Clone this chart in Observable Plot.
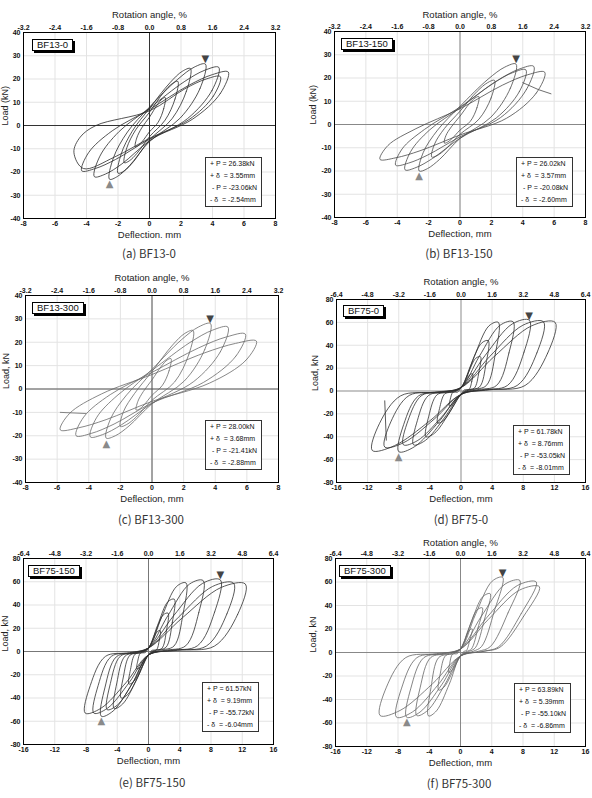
<!DOCTYPE html>
<html><head><meta charset="utf-8">
<script src="https://cdn.jsdelivr.net/npm/d3@7"></script>
<script src="https://cdn.jsdelivr.net/npm/@observablehq/plot@0.6"></script>
<style>
body{margin:0;background:#fff;}
#page{position:relative;width:592px;height:798px;overflow:hidden;background:#fff;}
.panel{position:absolute;}
.tag{position:absolute;border:1px solid #000;box-shadow:2px 2px 0 #000;background:#fff;font:9.5px "Liberation Sans",Arial,sans-serif;line-height:10px;padding:0 4px;color:#111;}
.leg{position:absolute;border:1px solid #333;background:#fff;font:7px "Liberation Sans",Arial,sans-serif;line-height:12px;padding:0 4px;white-space:pre;color:#111;}
.cap{position:absolute;transform:translateX(-50%);font:11.5px "Noto Sans CJK KR","DejaVu Sans",sans-serif;color:#333;white-space:nowrap;line-height:16px;}
</style></head><body><div id="page"></div><script>
// ---------- data ----------
const specimens = ["BF13-0","BF13-150","BF13-300","BF75-0","BF75-150","BF75-300"];
const captions = ["(a) BF13-0","(b) BF13-150","(c) BF13-300","(d) BF75-0","(e) BF75-150","(f) BF75-300"];
const xLabels = ["Deflection. mm","Deflection, mm","Deflection, mm","Deflection, mm","Deflection, mm","Deflection, mm"];
const yLabels = ["Load (kN)","Load (kN)","Load, kN","Load, kN","Load, kN","Load, kN"];
const topLabels = ["Rotation angle, %","Rotation angle, %","Rotation angle, %","Rotation angle, %",null,"Rotation angle, %"];
const xTicks13 = [-8,-6,-4,-2,0,2,4,6,8];
const rot13 = ["-3.2","-2.4","-1.6","-0.8","0.0","0.8","1.6","2.4","3.2"];
const yTicks13 = [-40,-30,-20,-10,0,10,20,30,40];
const xTicks75 = [-16,-12,-8,-4,0,4,8,12,16];
const rot75 = ["-6.4","-4.8","-3.2","-1.6","0.0","1.6","3.2","4.8","6.4"];
const yTicks75 = [-80,-60,-40,-20,0,20,40,60,80];
const peakPpos = [26.38,26.02,28.00,61.78,61.57,63.89];
const peakDpos = [3.55,3.57,3.68,8.76,9.19,5.39];
const peakPneg = [-23.06,-20.08,-21.41,-53.05,-55.72,-55.10];
const peakDneg = [-2.54,-2.60,-2.88,-8.01,-6.04,-6.86];

// hysteresis cycles: [deflection mm, load kN]
const loopsA = [
 [[1.0,12],[0.9,7.2],[0.55,1.4],[0,-2.7],[-0.45,-6.8],[-0.72,-8.6],[-0.9,-9],[-0.81,-5.4],[-0.5,-1.1],[0,3.6],[0.5,9],[0.8,11.4]],
 [[1.8,19],[1.62,11.4],[0.99,2.3],[0,-4.8],[-0.8,-12],[-1.28,-15.2],[-1.6,-16],[-1.44,-9.6],[-0.88,-1.9],[0,5.7],[0.9,14.3],[1.44,18]],
 [[2.6,24.5],[2.34,14.7],[1.43,2.9],[0,-6.2],[-1.0,-15.4],[-1.6,-19.5],[-2.0,-20.5],[-1.8,-12.3],[-1.1,-2.5],[0,7.4],[1.3,18.4],[2.08,23.3]],
 [[3.55,26.4],[3.2,15.8],[1.95,3.2],[0,-6.9],[-1.27,-17.3],[-2.03,-21.9],[-2.54,-23.1],[-2.29,-13.9],[-1.4,-2.8],[0,7.9],[1.78,19.8],[2.84,25.1]],
 [[4.4,25],[3.96,15],[2.42,3],[0,-6.6],[-1.75,-16.5],[-2.8,-20.9],[-3.5,-22],[-3.15,-13.2],[-1.93,-2.6],[0,7.5],[2.2,18.8],[3.52,23.8]],
 [[5.0,23],[4.5,13.8],[2.75,2.8],[0,-5.9],[-2.15,-14.6],[-3.44,-18.5],[-4.3,-19.5],[-3.87,-11.7],[-2.37,-2.3],[0,6.9],[2.5,17.3],[4.0,21.9]],
 [[4.5,21],[4.05,12.6],[2.5,2.5],[0,-5.5],[-2.2,-13.5],[-4.2,-18.5],[-4.8,-11.5],[-4.4,-5],[-3.4,0],[0,6.3],[2.25,15.8],[3.6,20]]
];
const loopsB = [
 [[1.2,12],[1.08,7.2],[0.66,1.4],[0,-2.4],[-0.5,-6],[-0.8,-7.6],[-1.0,-8],[-0.9,-4.8],[-0.55,-1],[0,3.6],[0.6,9],[0.96,11.4]],
 [[2.2,19],[1.98,11.4],[1.21,2.3],[0,-4.2],[-0.9,-10.5],[-1.44,-13.3],[-1.8,-14],[-1.62,-8.4],[-0.99,-1.7],[0,5.7],[1.1,14.3],[1.76,18]],
 [[3.57,26],[3.21,15.6],[1.96,3.1],[0,-6],[-1.3,-15],[-2.08,-19],[-2.6,-20],[-2.34,-12],[-1.43,-2.4],[0,7.8],[1.79,19.5],[2.86,24.7]],
 [[4.2,23.5],[3.78,14.1],[2.31,2.8],[0,-5.9],[-1.75,-14.6],[-2.8,-18.5],[-3.5,-19.5],[-3.15,-11.7],[-1.93,-2.3],[0,7.1],[2.1,17.6],[3.36,22.3]],
 [[4.7,25],[4.23,15],[2.59,3],[0,-5.3],[-2.05,-13.1],[-3.28,-16.6],[-4.1,-17.5],[-3.69,-10.5],[-2.26,-2.1],[0,7.5],[2.35,18.8],[3.76,23.8]],
 [[5.4,22.5],[4.86,13.5],[2.97,2.7],[0,-4.5],[-2.55,-11.3],[-4.08,-14.3],[-5.1,-15],[-4.59,-9],[-2.81,-1.8],[0,6.8],[2.7,16.9],[4.32,21.4]]
];
const loopsC = [
 [[1.2,13],[1.08,7.8],[0.66,1.6],[0,-2.7],[-0.5,-6.8],[-0.8,-8.6],[-1.0,-9],[-0.9,-5.4],[-0.55,-1.1],[0,3.9],[0.6,9.8],[0.96,12.4]],
 [[2.6,25],[2.34,15],[1.43,3],[0,-4.8],[-1.0,-12],[-1.6,-15.2],[-2.0,-16],[-1.8,-9.6],[-1.1,-1.9],[0,7.5],[1.3,18.8],[2.08,23.8]],
 [[3.7,28],[3.33,16.8],[2.04,3.4],[0,-6.3],[-1.45,-15.8],[-2.32,-20],[-2.9,-21],[-2.61,-12.6],[-1.6,-2.5],[0,8.4],[1.85,21],[2.96,26.6]],
 [[4.8,26.5],[4.32,15.9],[2.64,3.2],[0,-6.2],[-1.95,-15.4],[-3.12,-19.5],[-3.9,-20.5],[-3.51,-12.3],[-2.15,-2.5],[0,8],[2.4,19.9],[3.84,25.2]],
 [[5.9,23.5],[5.31,14.1],[3.25,2.8],[0,-6],[-2.4,-15],[-3.84,-19],[-4.8,-20],[-4.32,-12],[-2.64,-2.4],[0,7.1],[2.95,17.6],[4.72,22.3]],
 [[6.6,20.5],[5.94,12.3],[3.63,2.5],[0,-5.3],[-2.9,-13.1],[-4.64,-16.6],[-5.8,-17.5],[-5.22,-10.5],[-3.19,-2.1],[0,6.2],[3.3,15.4],[5.28,19.5]]
];
const loopsD = [
 [[1.5,15],[1.38,8.3],[1.02,1.2],[0.45,1],[0,-3],[-0.53,-6.5],[-1.13,-12],[-1.5,-13],[-1.38,-7.2],[-1.02,-1],[-0.45,-1],[0,3],[0.53,7.5],[1.13,14.3]],
 [[2.5,30],[2.3,16.5],[1.7,2.4],[0.75,1],[0,-3],[-1.05,-14],[-2.25,-25.8],[-3.0,-28],[-2.76,-15.4],[-2.04,-2.2],[-0.9,-1],[0,3],[0.88,15],[1.88,28.5]],
 [[3.5,44],[3.22,24.2],[2.38,3.5],[1.05,1],[0,-3],[-1.58,-20],[-3.38,-36.8],[-4.5,-40],[-4.14,-22],[-3.06,-3.2],[-1.35,-1],[0,3],[1.23,22],[2.63,41.8]],
 [[4.8,60],[4.42,33],[3.26,4.8],[1.44,1],[0,-3],[-2.14,-23.5],[-4.58,-43.2],[-6.1,-47],[-5.61,-25.9],[-4.15,-3.8],[-1.83,-1],[0,3],[1.68,30],[3.6,57]],
 [[6.7,60.5],[6.16,33.3],[4.56,4.8],[2.01,1],[0,-3],[-2.59,-23.5],[-5.55,-43.2],[-7.4,-47],[-6.81,-25.9],[-5.03,-3.8],[-2.22,-1],[0,3],[2.35,30.3],[5.03,57.5]],
 [[8.8,61.8],[8.1,34],[5.98,4.9],[2.64,1],[0,-3],[-2.8,-26.5],[-6,-48.8],[-8,-53],[-7.36,-29.2],[-5.44,-4.2],[-2.4,-1],[0,3],[3.08,30.9],[6.6,58.7]],
 [[10.6,60.5],[9.75,33.3],[7.21,4.8],[3.18,1],[0,-3],[-3.43,-24.5],[-7.35,-45.1],[-9.8,-49],[-9.02,-27],[-6.66,-3.9],[-2.94,-1],[0,3],[3.71,30.3],[7.95,57.5]],
 [[12.1,60],[11.13,33],[8.23,4.8],[3.63,1],[0,-3],[-3.99,-26],[-8.55,-47.8],[-11.4,-52],[-10.49,-28.6],[-7.75,-4.2],[-3.42,-1],[0,3],[4.24,30],[9.08,57]]
];
const loopsE = [
 [[1.5,18],[1.38,9.9],[1.02,1.4],[0.45,1],[0,-3],[-0.53,-7.5],[-1.13,-13.8],[-1.5,-15],[-1.38,-8.3],[-1.02,-1.2],[-0.45,-1],[0,3],[0.53,9],[1.13,17.1]],
 [[2.5,33],[2.3,18.2],[1.7,2.6],[0.75,1],[0,-3],[-0.88,-14],[-1.88,-25.8],[-2.5,-28],[-2.3,-15.4],[-1.7,-2.2],[-0.75,-1],[0,3],[0.88,16.5],[1.88,31.4]],
 [[3.3,45],[3.04,24.8],[2.24,3.6],[0.99,1],[0,-3],[-1.23,-20],[-2.63,-36.8],[-3.5,-40],[-3.22,-22],[-2.38,-3.2],[-1.05,-1],[0,3],[1.16,22.5],[2.48,42.8]],
 [[4.8,59],[4.42,32.5],[3.26,4.7],[1.44,1],[0,-3],[-1.54,-24.5],[-3.3,-45.1],[-4.4,-49],[-4.05,-27],[-2.99,-3.9],[-1.32,-1],[0,3],[1.68,29.5],[3.6,56]],
 [[7.0,61],[6.44,33.6],[4.76,4.9],[2.1,1],[0,-3],[-1.86,-25],[-3.98,-46],[-5.3,-50],[-4.88,-27.5],[-3.6,-4],[-1.59,-1],[0,3],[2.45,30.5],[5.25,58]],
 [[9.2,61.6],[8.46,33.9],[6.26,4.9],[2.76,1],[0,-3],[-2.11,-27.9],[-4.53,-51.2],[-6.04,-55.7],[-5.56,-30.6],[-4.11,-4.5],[-1.81,-1],[0,3],[3.22,30.8],[6.9,58.5]],
 [[10.9,58.8],[10.03,32.3],[7.41,4.7],[3.27,1],[0,-3],[-2.45,-26.5],[-5.25,-48.8],[-7.0,-53],[-6.44,-29.2],[-4.76,-4.2],[-2.1,-1],[0,3],[3.82,29.4],[8.18,55.9]],
 [[12.4,58],[11.41,31.9],[8.43,4.6],[3.72,1],[0,-3],[-2.84,-26.5],[-6.08,-48.8],[-8.1,-53],[-7.45,-29.2],[-5.51,-4.2],[-2.43,-1],[0,3],[4.34,29],[9.3,55.1]]
];
const loopsF = [
 [[1.5,20],[1.2,11],[0.75,1.6],[0.45,1],[0,-3],[-0.53,-8.5],[-1.13,-15.6],[-1.5,-17],[-1.38,-9.4],[-1.02,-1.4],[-0.45,-1],[0,3],[0.53,10],[1.13,19]],
 [[2.8,38],[2.24,20.9],[1.4,3],[0.84,1],[0,-3],[-0.98,-16],[-2.1,-29.4],[-2.8,-32],[-2.58,-17.6],[-1.9,-2.6],[-0.84,-1],[0,3],[0.98,19],[2.1,36.1]],
 [[3.8,50],[3.04,27.5],[1.9,4],[1.14,1],[0,-3],[-1.44,-27],[-3.08,-49.7],[-4.1,-54],[-3.77,-29.7],[-2.79,-4.3],[-1.23,-1],[0,3],[1.33,25],[2.85,47.5]],
 [[5.4,63.9],[4.32,35.1],[2.7,5.1],[1.62,1],[0,-3],[-1.96,-26.8],[-4.2,-49.3],[-5.6,-53.6],[-5.15,-29.5],[-3.81,-4.3],[-1.68,-1],[0,3],[1.89,32],[4.05,60.7]],
 [[7.6,61.3],[6.08,33.7],[3.8,4.9],[2.28,1],[0,-3],[-2.42,-27.6],[-5.18,-50.7],[-6.9,-55.1],[-6.35,-30.3],[-4.69,-4.4],[-2.07,-1],[0,3],[2.66,30.7],[5.7,58.2]],
 [[9.7,60],[7.76,33],[4.85,4.8],[2.91,1],[0,-3],[-2.87,-27.5],[-6.15,-50.6],[-8.2,-55],[-7.54,-30.3],[-5.58,-4.4],[-2.46,-1],[0,3],[3.4,30],[7.28,57]],
 [[10.1,56],[8.08,30.8],[5.05,4.5],[3.03,1],[0,-3],[-3.61,-26.8],[-7.73,-49.3],[-10.3,-53.6],[-9.48,-29.5],[-7.0,-4.3],[-3.09,-1],[0,3],[3.54,28],[7.58,53.2]]
];
const tailB = [[4.0,18],[5.0,15],[5.8,13.2]];
const tailC = [[-4.2,-10.5],[-5.8,-10]];
const tailD = [[-9.6,-43],[-9.8,-8.6]];

// ---------- layout ----------
const layout = [
 {left:0,top:0,width:290,height:245,mt:32,mr:15,mb:27,ml:23,rotDy:-21,xDy:19,yDx:-18,tag:[32,39],leg:[205,157],cap:[149,245]},
 {left:296,top:0,width:296,height:245,mt:31,mr:7,mb:28,ml:38,rotDy:-20,xDy:19,yDx:-21,tag:[341,38],leg:[516,157],cap:[459,245]},
 {left:0,top:262,width:292,height:250,mt:33,mr:14,mb:30,ml:25,rotDy:-21,xDy:19,yDx:-19,tag:[32,302],leg:[205,420],cap:[151,511]},
 {left:296,top:262,width:296,height:250,mt:37,mr:7,mb:30,ml:40,rotDy:-21,xDy:19,yDx:-21,tag:[343,305],leg:[513,425],cap:[461,511]},
 {left:0,top:530,width:290,height:245,mt:28,mr:17,mb:31,ml:23,rotDy:null,xDy:19,yDx:-18,tag:[28,565],leg:[202,682],cap:[152,774]},
 {left:296,top:530,width:296,height:245,mt:28,mr:7,mb:29,ml:39,rotDy:-19,xDy:19,yDx:-22,tag:[339,565],leg:[514,683],cap:[459,775]}
];
const panels = [
 {loops:loopsA,tail:null,xt:xTicks13,rot:rot13,yt:yTicks13,color:"#2a2a2a",zero:"#333"},
 {loops:loopsB,tail:tailB,xt:xTicks13,rot:rot13,yt:yTicks13,color:"#4a4a4a",zero:"#888"},
 {loops:loopsC,tail:tailC,xt:xTicks13,rot:rot13,yt:yTicks13,color:"#6a6a6a",zero:"#555"},
 {loops:loopsD,tail:tailD,xt:xTicks75,rot:rot75,yt:yTicks75,color:"#2e2e2e",zero:"#999"},
 {loops:loopsE,tail:null,xt:xTicks75,rot:rot75,yt:yTicks75,color:"#2e2e2e",zero:"#777"},
 {loops:loopsF,tail:null,xt:xTicks75,rot:rot75,yt:yTicks75,color:"#666",zero:"#888"}
];

const page = document.getElementById("page");
panels.forEach((P, i) => {
  const L = layout[i];
  const rows = P.loops.flatMap((cyc, c) => cyc.map(([d, p]) => ({c, d, p})));
  const marks = [
    Plot.gridX(P.xt, {stroke: "#e3e3e3", strokeOpacity: 1}),
    Plot.gridY(P.yt, {stroke: "#e3e3e3", strokeOpacity: 1}),
    Plot.ruleX([0], {stroke: P.zero, strokeWidth: 1}),
    Plot.ruleY([0], {stroke: P.zero, strokeWidth: 1}),
    Plot.line(rows, {x: "d", y: "p", z: "c", curve: "catmull-rom-closed", stroke: P.color, strokeWidth: 0.8})
  ];
  if (P.tail) marks.push(Plot.line(P.tail.map(([d, p]) => ({d, p})), {x: "d", y: "p", stroke: P.color, strokeWidth: 0.8}));
  marks.push(
    Plot.text([{d: peakDpos[i], p: peakPpos[i]}], {x: "d", y: "p", text: () => "\u25BC", dy: -5, fill: "#444", fontSize: 10, fontFamily: "DejaVu Sans"}),
    Plot.text([{d: peakDneg[i], p: peakPneg[i]}], {x: "d", y: "p", text: () => "\u25B2", dy: 5, fill: "#8a8a8a", fontSize: 10, fontFamily: "DejaVu Sans"}),
    Plot.frame({stroke: "#000", strokeWidth: 1}),
    Plot.axisX({anchor: "bottom", ticks: P.xt, tickSize: 0, tickPadding: 3, tickFormat: d => String(d), label: null, fontWeight: "bold"}),
    Plot.axisX({anchor: "top", ticks: P.xt, tickSize: 0, tickPadding: 3, tickFormat: d => P.rot[P.xt.indexOf(d)], label: null, fontWeight: "bold"}),
    Plot.axisY({anchor: "left", ticks: P.yt, tickSize: 0, tickPadding: 3, tickFormat: d => String(d), label: null, fontWeight: "bold"}),
    Plot.text([xLabels[i]], {text: d => d, frameAnchor: "bottom", dy: L.xDy, fontSize: 9.5, fill: "#222"}),
    Plot.text([yLabels[i]], {text: d => d, frameAnchor: "left", dx: L.yDx, rotate: -90, fontSize: 9, fill: "#222"})
  );
  if (topLabels[i]) marks.push(Plot.text([topLabels[i]], {text: d => d, frameAnchor: "top", dy: L.rotDy, fontSize: 9.5, fill: "#222"}));
  const svg = Plot.plot({
    width: L.width, height: L.height,
    marginTop: L.mt, marginRight: L.mr, marginBottom: L.mb, marginLeft: L.ml,
    x: {domain: [P.xt[0], P.xt[P.xt.length - 1]]},
    y: {domain: [P.yt[0], P.yt[P.yt.length - 1]]},
    style: {fontFamily: "'Liberation Sans', Arial, sans-serif", fontSize: "7px", background: "transparent", overflow: "visible", color: "#111"},
    marks
  });
  const holder = document.createElement("div");
  holder.className = "panel";
  holder.style.left = L.left + "px";
  holder.style.top = L.top + "px";
  holder.appendChild(svg);
  page.appendChild(holder);

  const tag = document.createElement("div");
  tag.className = "tag";
  tag.style.left = L.tag[0] + "px"; tag.style.top = L.tag[1] + "px";
  tag.textContent = specimens[i];
  page.appendChild(tag);

  const leg = document.createElement("div");
  leg.className = "leg";
  leg.style.left = L.leg[0] + "px"; leg.style.top = L.leg[1] + "px";
  leg.textContent = [
    "+ P = " + peakPpos[i].toFixed(2) + "kN",
    "+ \u03B4  = " + peakDpos[i].toFixed(2) + "mm",
    " - P = " + peakPneg[i].toFixed(2) + "kN",
    "- \u03B4  = " + peakDneg[i].toFixed(2) + "mm"
  ].join("\n");
  page.appendChild(leg);

  const cap = document.createElement("div");
  cap.className = "cap";
  cap.style.left = L.cap[0] + "px"; cap.style.top = L.cap[1] + "px";
  cap.textContent = captions[i];
  page.appendChild(cap);
});
</script></body></html>
